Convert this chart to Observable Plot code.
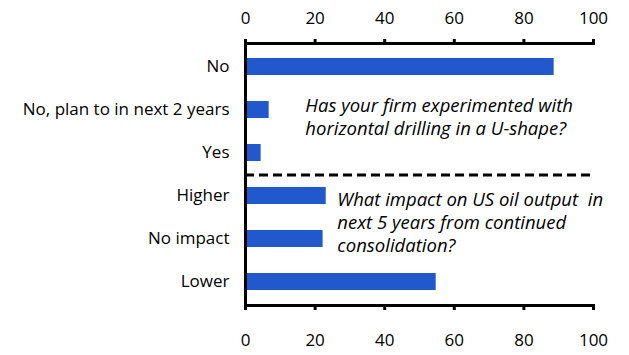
<!DOCTYPE html>
<html>
<head>
<meta charset="utf-8">
<script src="https://cdn.jsdelivr.net/npm/d3@7"></script>
<script src="https://cdn.jsdelivr.net/npm/@observablehq/plot@0.6"></script>
<style>
  html, body { margin: 0; padding: 0; background: #fff; }
  #chart svg { display: block; }
</style>
</head>
<body>
<div id="chart"></div>
<script>
const categories = ["No", "No, plan to in next 2 years", "Yes", "Higher", "No impact", "Lower"];
const values = [88.7, 6.8, 4.5, 23.2, 22.3, 54.8];
const xTicks = [0, 20, 40, 60, 80, 100];
const questionTexts = [
  "Has your firm experimented with\nhorizontal drilling in a U-shape?",
  "What impact on US oil output  in\nnext 5 years from continued\nconsolidation?"
];
const questionX = [17.2, 26.4];
const questionY = ["No, plan to in next 2 years", "No impact"];
const questionShift = [6, -17];
const dividerBefore = "Higher";

const data = categories.map((c, i) => ({category: c, value: values[i]}));
const notes = questionTexts.map((t, i) => ({text: t, x: questionX[i], y: questionY[i]}));

const font = "'Open Sans', sans-serif";
const blue = "#2159cc";

const chart = Plot.plot({
  width: 629,
  height: 355,
  marginLeft: 245,
  marginRight: 36,
  marginTop: 43,
  marginBottom: 50,
  style: {fontFamily: font, fontSize: "17px", color: "#000", background: "#fff"},
  x: {domain: [0, 100]},
  y: {domain: categories, paddingInner: 0.6, paddingOuter: 0.33, align: 0.5},
  marks: [
    Plot.barX(data, {x: "value", y: "category", fill: blue}),
    Plot.axisX({anchor: "top", ticks: xTicks, tickSize: 5, strokeWidth: 3, tickPadding: 15, fontSize: 17, label: null}),
    Plot.axisX({anchor: "bottom", ticks: xTicks, tickSize: 5, strokeWidth: 3, tickPadding: 23, fontSize: 17, label: null}),
    Plot.axisY({tickSize: 0, tickPadding: 16, fontSize: 17, label: null}),
    Plot.frame({anchor: "top", strokeWidth: 3, stroke: "#000"}),
    Plot.frame({anchor: "bottom", strokeWidth: 3, stroke: "#000"}),
    Plot.ruleX([0], {strokeWidth: 3, stroke: "#000"}),
    Plot.ruleY([dividerBefore], {
      y: d => d, x1: 0, x2: 100, stroke: "#000", strokeWidth: 3,
      strokeDasharray: "9,5", dy: -21
    }),
    Plot.text(notes.slice(0, 1), {
      x: "x", y: "y", text: "text", textAnchor: "start", lineAnchor: "middle",
      fontStyle: "italic", fontSize: 18.5, lineHeight: 1.24, fill: "#000", dy: questionShift[0]
    }),
    Plot.text(notes.slice(1), {
      x: "x", y: "y", text: "text", textAnchor: "start", lineAnchor: "middle",
      fontStyle: "italic", fontSize: 18.5, lineHeight: 1.24, fill: "#000", dy: questionShift[1]
    })
  ]
});
document.getElementById("chart").appendChild(chart);
</script>
</body>
</html>
